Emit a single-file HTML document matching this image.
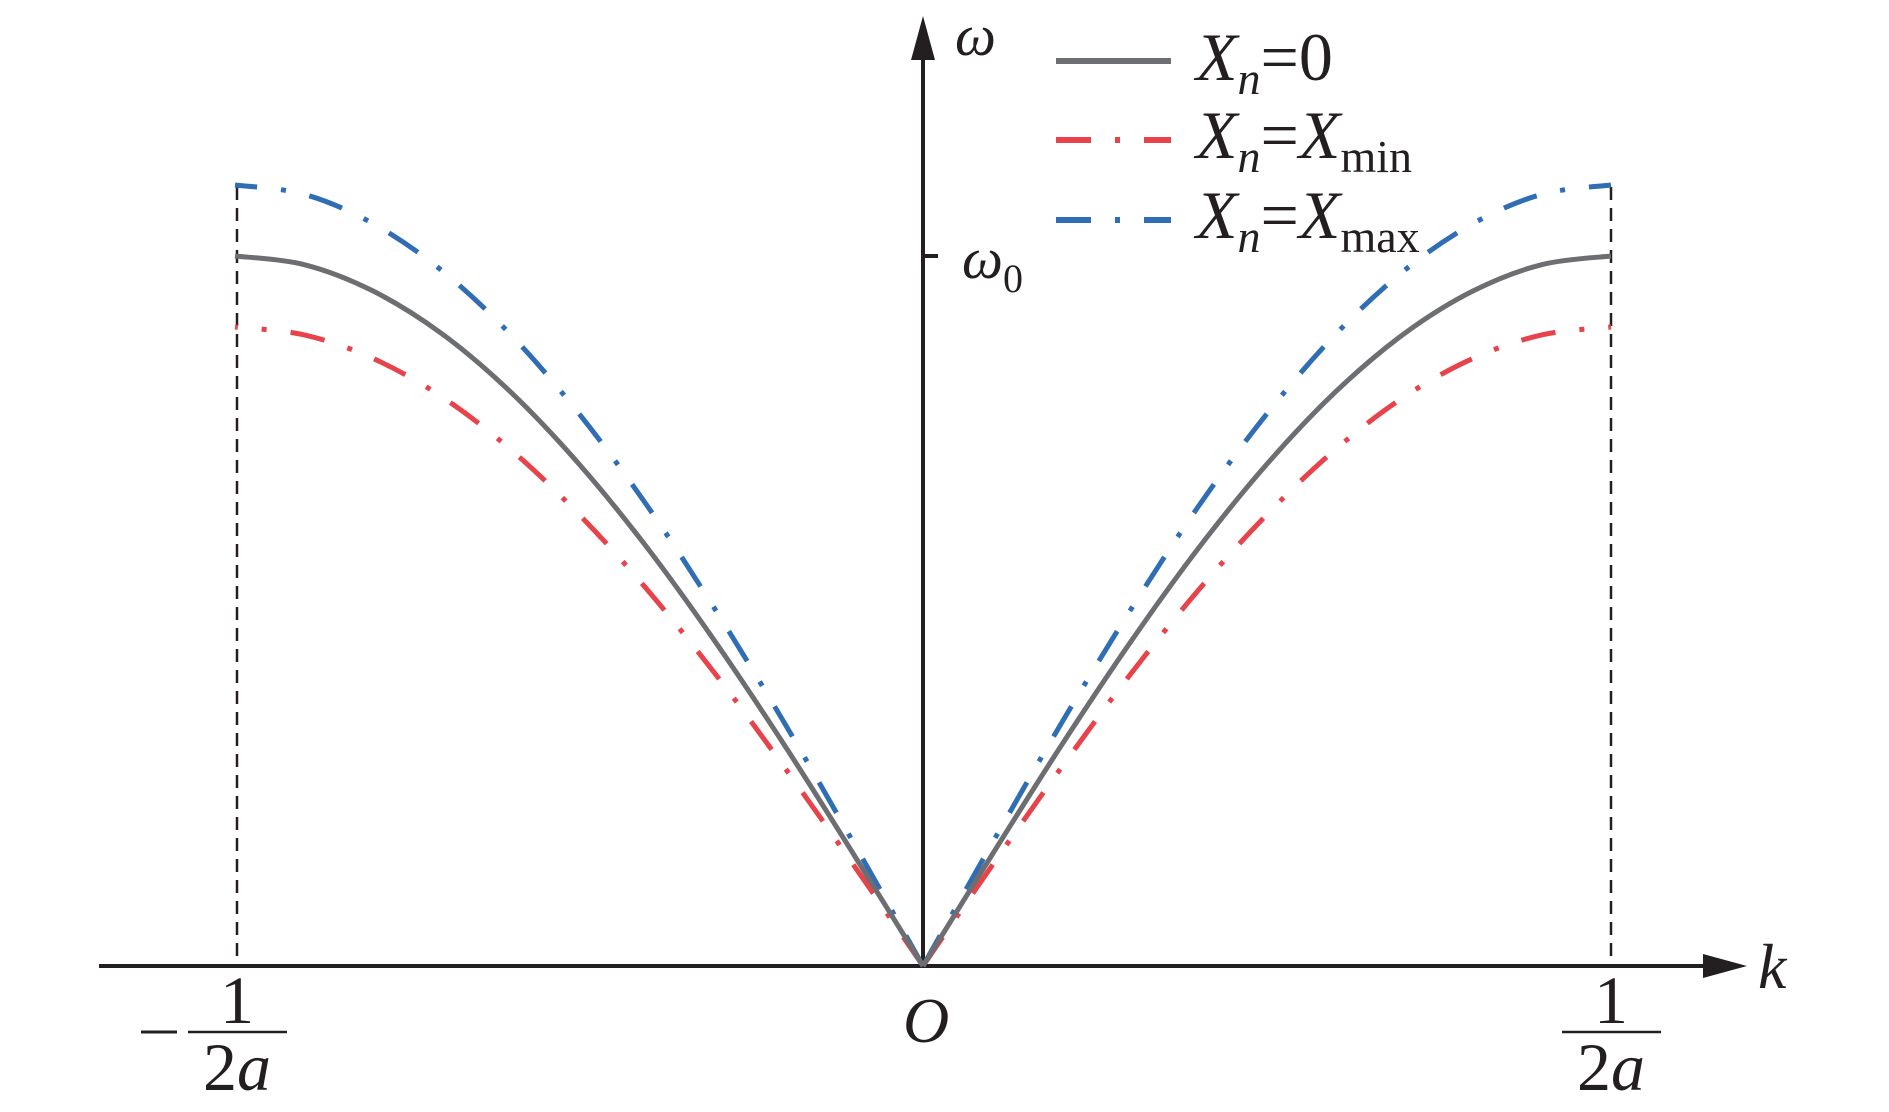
<!DOCTYPE html>
<html><head><meta charset="utf-8"><style>
html,body{margin:0;padding:0;background:#fff;}
svg{display:block;}
text{font-family:"Liberation Serif",serif;fill:#231f20;}
</style></head><body>
<svg id="chart" width="1889" height="1112" viewBox="0 0 1889 1112" xmlns="http://www.w3.org/2000/svg">
<g id="axes">
  <line x1="99" y1="966" x2="1710" y2="966" stroke="#231f20" stroke-width="4"/>
  <polygon points="1747,966 1703,954 1703,978" fill="#231f20"/>
  <line x1="923" y1="966" x2="923" y2="50" stroke="#231f20" stroke-width="4"/>
  <polygon points="923,16 911,60 935,60" fill="#231f20"/>
  <line x1="923" y1="256" x2="938" y2="256" stroke="#231f20" stroke-width="4"/>
  <line x1="237" y1="187" x2="237" y2="966" stroke="#231f20" stroke-width="2.5" stroke-dasharray="13,8"/>
  <line x1="1611" y1="187" x2="1611" y2="966" stroke="#231f20" stroke-width="2.5" stroke-dasharray="13,8"/>
  <text x="955" y="55" font-size="58" font-style="italic">ω</text>
  <text x="962" y="278" font-size="58" font-style="italic">ω<tspan font-style="normal" font-size="40" dy="14">0</tspan></text>
  <text x="1758" y="988" font-size="64" font-style="italic">k</text>
  <text x="903" y="1042" font-size="64" font-style="italic">O</text>
  <g>
    <line x1="141" y1="1032" x2="177" y2="1032" stroke="#231f20" stroke-width="3"/>
    <text x="237" y="1023" font-size="68" text-anchor="middle">1</text>
    <line x1="188" y1="1032" x2="287" y2="1032" stroke="#231f20" stroke-width="2.5"/>
    <text x="237" y="1090" font-size="68" text-anchor="middle">2<tspan font-style="italic">a</tspan></text>
  </g>
  <g>
    <text x="1611" y="1023" font-size="68" text-anchor="middle">1</text>
    <line x1="1562" y1="1032" x2="1661" y2="1032" stroke="#231f20" stroke-width="2.5"/>
    <text x="1611" y="1090" font-size="68" text-anchor="middle">2<tspan font-style="italic">a</tspan></text>
  </g>
</g>
<g id="series"></g>
<g id="legend">
  <g>
    <line x1="1056" y1="61" x2="1171" y2="61" stroke="#6d6e71" stroke-width="6"/>
    <text x="1196" y="80" font-size="68" font-style="italic">X<tspan font-size="46" dy="14">n</tspan><tspan font-style="normal" dy="-14">=0</tspan></text>
  </g>
  <g>
    <line x1="1056" y1="140" x2="1171" y2="140" stroke="#e8424a" stroke-width="6" stroke-dasharray="35,24,5,24"/>
    <text x="1196" y="158" font-size="68" font-style="italic">X<tspan font-size="46" dy="14">n</tspan><tspan font-style="normal" dy="-14">=</tspan>X<tspan font-style="normal" font-size="46" dy="14">min</tspan></text>
  </g>
  <g>
    <line x1="1056" y1="220" x2="1171" y2="220" stroke="#2f6db5" stroke-width="6" stroke-dasharray="35,24,5,24"/>
    <text x="1196" y="238" font-size="68" font-style="italic">X<tspan font-size="46" dy="14">n</tspan><tspan font-style="normal" dy="-14">=</tspan>X<tspan font-style="normal" font-size="46" dy="14">max</tspan></text>
  </g>
</g>
</svg>
<script>
const kValues = [0, 0.1, 0.2, 0.3, 0.4, 0.5, 0.6, 0.7, 0.8, 0.9, 1.0];
const grayValues = [0, 0.156, 0.309, 0.454, 0.588, 0.707, 0.809, 0.891, 0.951, 0.988, 1.0];
const redValues = [0, 0.141, 0.278, 0.409, 0.529, 0.636, 0.728, 0.802, 0.856, 0.889, 0.9];
const blueValues = [0, 0.172, 0.340, 0.499, 0.647, 0.778, 0.890, 0.980, 1.046, 1.087, 1.1];

const x0 = 923, xHalf = 1611 - 923;
const y0 = 966, yUnit = 966 - 256;
function xScale(k){ return x0 + k * xHalf; }
function yScale(w){ return y0 - w * yUnit; }

const g = document.getElementById('series');
function buildPath(vals, sign){
  let pts = [];
  for (let i = 0; i < kValues.length; i++) pts.push([xScale(sign * kValues[i]), yScale(vals[i])]);
  // Catmull-Rom to bezier for smoothness
  let d = 'M' + pts[0][0] + ',' + pts[0][1];
  for (let i = 0; i < pts.length - 1; i++) {
    const p0 = pts[Math.max(0, i - 1)], p1 = pts[i], p2 = pts[i + 1], p3 = pts[Math.min(pts.length - 1, i + 2)];
    const c1x = p1[0] + (p2[0] - p0[0]) / 6, c1y = p1[1] + (p2[1] - p0[1]) / 6;
    const c2x = p2[0] - (p3[0] - p1[0]) / 6, c2y = p2[1] - (p3[1] - p1[1]) / 6;
    d += ' C' + c1x + ',' + c1y + ' ' + c2x + ',' + c2y + ' ' + p2[0] + ',' + p2[1];
  }
  return d;
}
const seriesDefs = [
  {name: 'red', vals: redValues, color: '#e8424a', dash: '35,24,5,24'},
  {name: 'blue', vals: blueValues, color: '#2f6db5', dash: '35,24,5,24'},
  {name: 'gray', vals: grayValues, color: '#6d6e71', dash: null}
];
seriesDefs.forEach(s => {
  [-1, 1].forEach(sign => {
    const p = document.createElementNS('http://www.w3.org/2000/svg', 'path');
    p.setAttribute('d', buildPath(s.vals, sign));
    p.setAttribute('fill', 'none');
    p.setAttribute('stroke', s.color);
    p.setAttribute('stroke-width', '5');
    if (s.dash) p.setAttribute('stroke-dasharray', s.dash);
    
    
    g.appendChild(p);
  });
});
</script>
</body></html>
